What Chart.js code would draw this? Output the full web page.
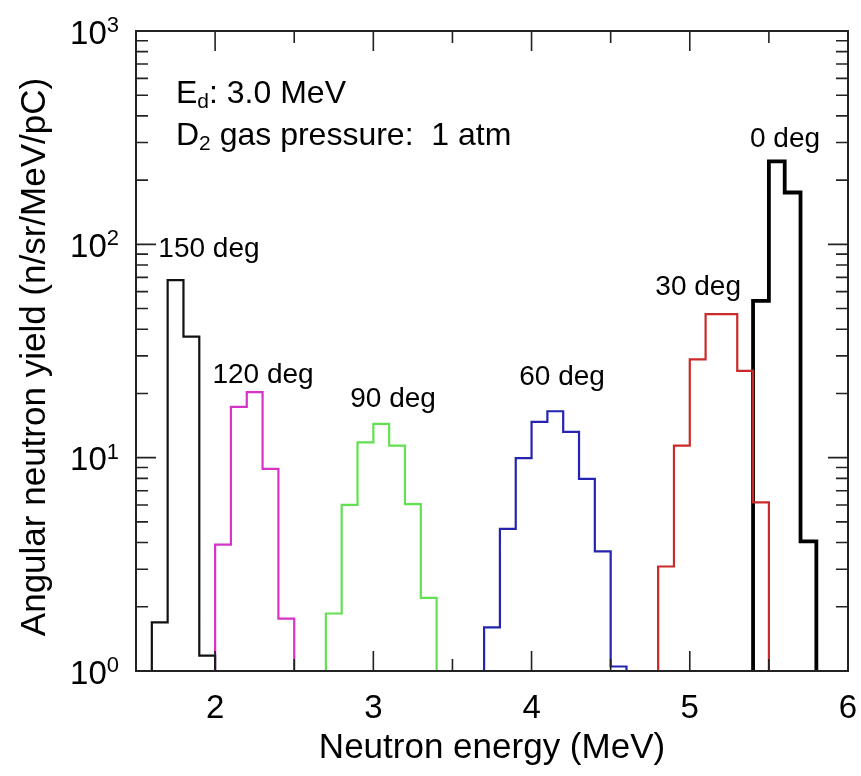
<!DOCTYPE html>
<html lang="en">
<head>
<meta charset="UTF-8">
<title>Angular neutron yield</title>
<script src="https://cdn.jsdelivr.net/npm/chart.js@4/dist/chart.umd.min.js"></script>
<style>
  body { margin: 0; background: #fff; }
</style>
</head>
<body>
<canvas id="chart" width="861" height="776"></canvas>

<script>
// bin edges (MeV) and yields (n/sr/MeV/pC)
const edges150 = [1.6, 1.7, 1.8, 1.9, 2.0];
const yield150 = [1.69, 67.9, 36.9, 1.18];

const edges120 = [2.0, 2.1, 2.2, 2.3, 2.4, 2.5];
const yield120 = [3.91, 17.3, 20.3, 8.87, 1.76];

const edges90 = [2.7, 2.8, 2.9, 3.0, 3.1, 3.2, 3.3, 3.4];
const yield90 = [1.86, 6.01, 11.8, 14.4, 11.4, 6.06, 2.2];

const edges60 = [3.7, 3.8, 3.9, 4.0, 4.1, 4.2, 4.3, 4.4, 4.5, 4.6];
const yield60 = [1.60, 4.64, 9.95, 14.7, 16.5, 13.2, 7.96, 3.64, 1.05];

const edges30 = [4.8, 4.9, 5.0, 5.1, 5.2, 5.3, 5.4, 5.5];
const yield30 = [3.09, 11.4, 28.9, 47.1, 47.1, 25.5, 6.17];

const edges0 = [5.4, 5.5, 5.6, 5.7, 5.8];
const yield0 = [54.3, 245, 175, 4.05];

const angleLabels = ['150 deg', '120 deg', '90 deg', '60 deg', '30 deg', '0 deg'];
// where each label sits, in data units (centre x, baseline y)
const labelEnergy = [1.961, 2.303, 3.125, 4.193, 5.053, 5.602];
const labelYield = [87, 22.4, 17.3, 21.9, 57.8, 285];

const xTickLabels = [2, 3, 4, 5, 6];
const yDecades = [0, 1, 2, 3];

const FONT = '"Liberation Sans", Arial, Helvetica, sans-serif';

// turn edges + bin values into a closed step outline sitting on y = 1
function histPoints(edges, values) {
    const pts = [{x: edges[0], y: 1}];
    values.forEach((v, i) => pts.push({x: edges[i], y: v}));
    pts.push({x: edges[edges.length - 1], y: 1});
    return pts;
}

function series(label, edges, values, color, width) {
    return {
        label: label,
        data: histPoints(edges, values),
        borderColor: color,
        borderWidth: width,
        stepped: 'before',
        pointRadius: 0,
        fill: false,
        tension: 0
    };
}

function richText(ctx, parts, x, y) {
    let cx = x;
    parts.forEach(p => {
        ctx.font = p[1] + 'px ' + FONT;
        ctx.fillText(p[0], cx, y + p[2]);
        cx += ctx.measureText(p[0]).width;
    });
}

const framePlugin = {
    id: 'frame',
    afterDraw(chart) {
        const ctx = chart.ctx;
        const a = chart.chartArea;
        const xs = chart.scales.x, ys = chart.scales.y;
        ctx.save();
        ctx.strokeStyle = '#222';
        ctx.lineWidth = 1.6;

        // inward ticks on all four sides
        const vTick = (v, len) => {
            const px = xs.getPixelForValue(v);
            ctx.beginPath();
            ctx.moveTo(px, a.bottom); ctx.lineTo(px, a.bottom - len);
            ctx.moveTo(px, a.top); ctx.lineTo(px, a.top + len);
            ctx.stroke();
        };
        const hTick = (v, len) => {
            const py = ys.getPixelForValue(v);
            ctx.beginPath();
            ctx.moveTo(a.left, py); ctx.lineTo(a.left + len, py);
            ctx.moveTo(a.right, py); ctx.lineTo(a.right - len, py);
            ctx.stroke();
        };
        for (let v = 2; v < 6; v++) vTick(v, 20);
        for (let v = 2.5; v < 6; v++) vTick(v, 12);
        for (let d = 0; d < 3; d++) {
            const base = Math.pow(10, d);
            if (d > 0) hTick(base, 20);
            for (let m = 2; m <= 9; m++) hTick(base * m, 12);
        }

        ctx.lineWidth = 2;
        ctx.strokeRect(a.left, a.top, a.right - a.left, a.bottom - a.top);

        ctx.fillStyle = '#000';
        ctx.textBaseline = 'alphabetic';

        // x tick labels
        ctx.textAlign = 'center';
        ctx.font = '33px ' + FONT;
        xTickLabels.forEach(v => {
            ctx.fillText(String(v), xs.getPixelForValue(v), a.bottom + 47);
        });

        // y tick labels 10^n
        yDecades.forEach(n => {
            const py = ys.getPixelForValue(Math.pow(10, n));
            ctx.textAlign = 'right';
            ctx.font = '22px ' + FONT;
            const sw = ctx.measureText(String(n)).width;
            ctx.fillText(String(n), 119, py + 1);
            ctx.font = '33px ' + FONT;
            ctx.fillText('10', 119 - sw, py + 12.5);
        });

        // axis titles
        ctx.textAlign = 'center';
        ctx.font = '35px ' + FONT;
        ctx.fillText('Neutron energy (MeV)', (a.left + a.right) / 2, 758);
        ctx.save();
        ctx.translate(45, 357);
        ctx.rotate(-Math.PI / 2);
        ctx.fillText('Angular neutron yield (n/sr/MeV/pC)', 0, 0);
        ctx.restore();

        // angle labels
        ctx.font = '28px ' + FONT;
        angleLabels.forEach((t, i) => {
            ctx.fillText(t, xs.getPixelForValue(labelEnergy[i]), ys.getPixelForValue(labelYield[i]));
        });

        // run conditions
        ctx.textAlign = 'left';
        richText(ctx, [['E', 32, 0], ['d', 21, 5], [': 3.0 MeV', 32, 0]], a.left + 40, 103);
        richText(ctx, [['D', 32, 0], ['2', 21, 5], [' gas pressure:  1 atm', 32, 0]], a.left + 40, 145);
        ctx.restore();
    }
};

new Chart(document.getElementById('chart'), {
    type: 'line',
    data: {
        datasets: [
            series('150 deg', edges150, yield150, '#111111', 2.2),
            series('120 deg', edges120, yield120, '#d633c9', 2.2),
            series('90 deg', edges90, yield90, '#62e052', 2.2),
            series('60 deg', edges60, yield60, '#2424b0', 2.2),
            series('30 deg', edges30, yield30, '#cc2a2a', 2.2),
            series('0 deg', edges0, yield0, '#000000', 3.8)
        ]
    },
    options: {
        responsive: false,
        animation: false,
        layout: { padding: { top: 31, right: 13, left: 0, bottom: 0 } },
        plugins: { legend: { display: false }, tooltip: { enabled: false } },
        scales: {
            x: {
                type: 'linear', min: 1.5, max: 6,
                grid: { display: false }, border: { display: false },
                ticks: { display: false },
                afterFit: s => { s.height = 105; }
            },
            y: {
                type: 'logarithmic', min: 1, max: 1000,
                grid: { display: false }, border: { display: false },
                ticks: { display: false },
                afterFit: s => { s.width = 136; }
            }
        }
    },
    plugins: [framePlugin]
});
</script>
</body>
</html>
